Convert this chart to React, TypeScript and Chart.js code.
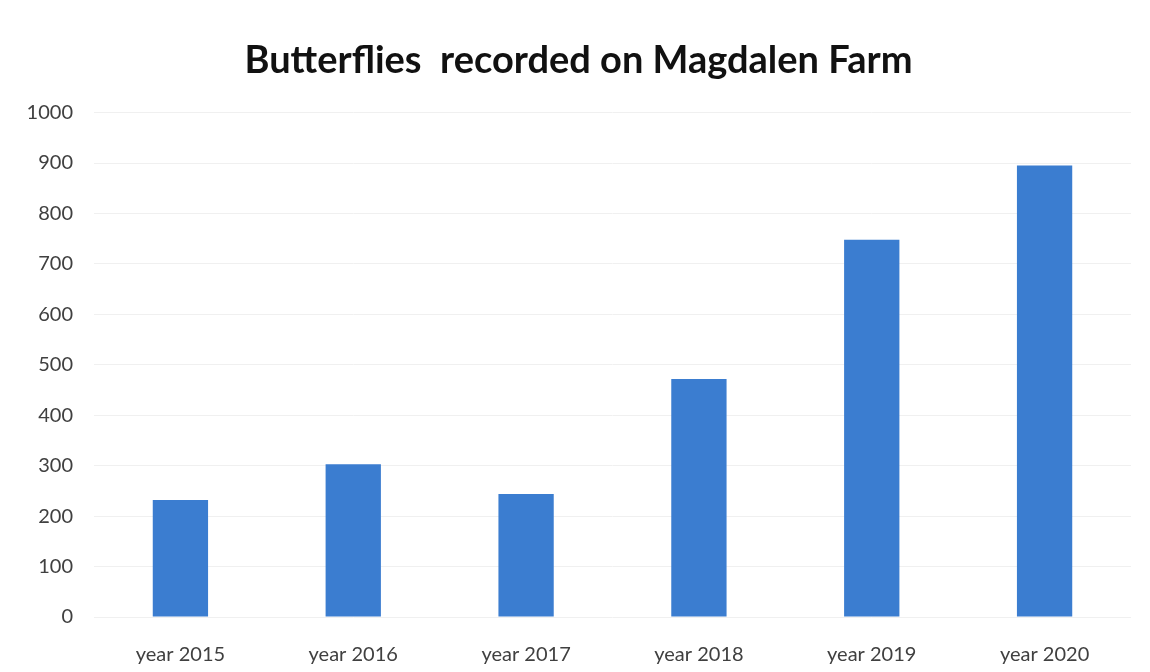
import React, { useEffect, useRef } from "react";
import { Chart, registerables } from "chart.js";

Chart.register(...registerables);

const categories = ["year 2015", "year 2016", "year 2017", "year 2018", "year 2019", "year 2020"];
const butterflies = [232, 303, 244, 472, 748, 895];
const titleText = "Butterflies  recorded on Magdalen Farm";

export default function App() {
  const ref = useRef<HTMLCanvasElement>(null);
  useEffect(() => {
    document.body.style.margin = "0";
    const ctx = ref.current!.getContext("2d")!;
    const chart = new Chart(ctx, {
      type: "bar",
      data: {
        labels: categories,
        datasets: [
          {
            data: butterflies,
            backgroundColor: "#3b7dd0",
            borderWidth: 0,
            categoryPercentage: 1,
            barPercentage: 0.32,
          },
        ],
      },
      options: {
        responsive: false,
        animation: false,
        layout: { padding: { left: 26, right: 19, top: 0, bottom: 0 } },
        plugins: {
          legend: { display: false },
          tooltip: { enabled: false },
          title: {
            display: true,
            text: titleText,
            color: "#111111",
            font: { family: "Lato, 'Open Sans', sans-serif", size: 38, weight: "bold", lineHeight: 1.2 },
            padding: { top: 38, bottom: 29 },
          },
        },
        scales: {
          x: {
            grid: { display: false },
            border: { display: false },
            ticks: {
              color: "#404040",
              font: { family: "Lato, 'Open Sans', sans-serif", size: 20 },
              padding: 18,
            },
            afterFit: (s: any) => {
              s.height = 55;
            },
          },
          y: {
            min: 0,
            max: 1000,
            ticks: {
              stepSize: 100,
              color: "#404040",
              font: { family: "Lato, 'Open Sans', sans-serif", size: 20 },
              padding: 21,
              callback: (v: any) => String(v),
            },
            grid: { color: "#f0f0f0", drawTicks: false },
            border: { display: false },
            afterFit: (s: any) => {
              s.width = 68;
            },
          },
        },
      },
    });
    return () => chart.destroy();
  }, []);
  return <canvas ref={ref} width={1150} height={672} style={{ display: "block" }} />;
}
